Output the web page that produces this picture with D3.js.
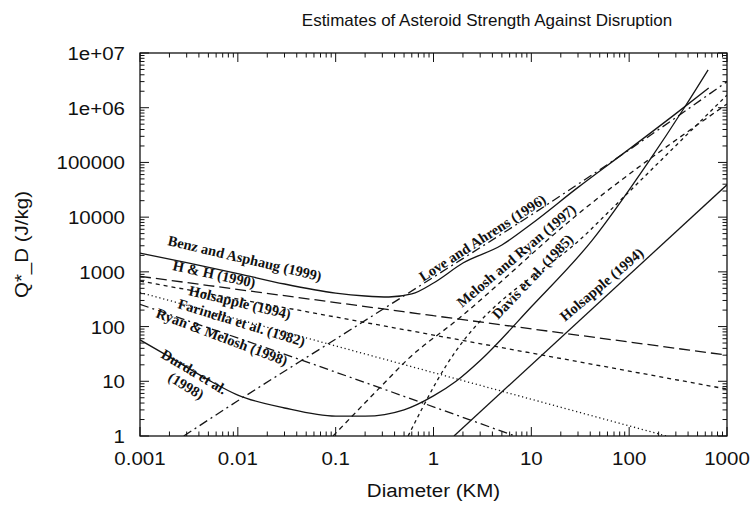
<!DOCTYPE html>
<html>
<head>
<meta charset="utf-8">
<script src="https://cdn.jsdelivr.net/npm/d3@7"></script>
<style>
  html, body { margin: 0; padding: 0; background: #fff; }
  svg { display: block; }
</style>
</head>
<body>
<svg id="chart" width="753" height="505"></svg>
<script>
// Catastrophic disruption threshold Q*_D (J/kg) versus target diameter (km)
const xTicks = [0.001, 0.01, 0.1, 1, 10, 100, 1000];
const xTickLabels = ["0.001", "0.01", "0.1", "1", "10", "100", "1000"];
const yTicks = [1, 10, 100, 1000, 10000, 100000, 1e6, 1e7];
const yTickLabels = ["1", "10", "100", "1000", "10000", "100000", "1e+06", "1e+07"];

const benzD = [0.001, 0.003, 0.01, 0.03, 0.1, 0.2, 0.35, 0.6, 1, 2, 5, 10, 30, 100, 300, 650];
const benzQ = [2200, 1470, 930, 600, 410, 362, 347, 394, 626, 1450, 3100, 7500, 35000, 175000, 780000, 2300000];

const hhD = [0.001, 1, 1000];
const hhQ = [830, 158, 30];

const holsStrD = [0.001, 1, 1000];
const holsStrQ = [680, 70, 7.2];

const farD = [0.001, 1, 240];
const farQ = [420, 14.4, 1];

const ryanD = [0.001, 0.1, 6.8];
const ryanQ = [255, 14.7, 1];

const durdaD = [0.001, 0.002, 0.005, 0.01, 0.03, 0.1, 0.2, 0.5, 1, 1.7, 3, 10, 42, 155, 370, 640];
const durdaQ = [57, 28, 10.6, 5.6, 3.25, 2.3, 2.3, 3.0, 5.4, 10, 24, 230, 3800, 98000, 1030000, 4900000];

const loveD = [0.0028, 0.01, 0.1, 1, 10, 100, 1000];
const loveQ = [1, 4.4, 59, 800, 11000, 170000, 3000000];

const meloshD = [0.094, 0.327, 0.536, 1.74, 29.3, 1000];
const meloshQ = [1, 10, 24.5, 132, 11000, 1170000];

const davisD = [0.55, 1.08, 40, 1000];
const davisQ = [1, 10, 5800, 1700000];

const holsGravD = [1.62, 1000];
const holsGravQ = [1, 39000];

const svg = d3.select("#chart");
const pL = 140, pR = 727, pT = 53, pB = 436;

const x = d3.scaleLog().domain([0.001, 1000]).range([pL, pR]);
const y = d3.scaleLog().domain([1, 1e7]).range([pB, pT]);

svg.append("defs").append("clipPath").attr("id", "plotClip")
  .append("rect").attr("x", pL).attr("y", pT)
  .attr("width", pR - pL).attr("height", pB - pT);

const sans = "Liberation Sans, Arial, sans-serif";
const fs = 19, sx = 1.08;

function label(px, py, txt, anchor, rot, size, stretch) {
  svg.append("text")
    .attr("transform", `translate(${px},${py}) rotate(${rot || 0}) scale(${stretch || sx},1)`)
    .attr("text-anchor", anchor)
    .attr("font-family", sans)
    .attr("font-size", size || fs).attr("fill", "#111")
    .text(txt);
}

// Title and axis titles
label(487, 26, "Estimates of Asteroid Strength Against Disruption", "middle", 0, 17, 1);
label((pL + pR) / 2, 497, "Diameter (KM)", "middle");
label(28, (pT + pB) / 2, "Q*_D (J/kg)", "middle", -90);

// Ticks: inward on all four sides, gnuplot style
const tickG = svg.append("g").attr("stroke", "#111").attr("stroke-width", 1);
const major = 9, minor = 4.5;

const xMinor = [];
for (let e = -3; e < 3; e++) for (let m = 2; m <= 9; m++) xMinor.push(m * Math.pow(10, e));
const yMinor = [];
for (let e = 0; e < 7; e++) for (let m = 2; m <= 9; m++) yMinor.push(m * Math.pow(10, e));

xTicks.forEach(v => {
  const px = x(v);
  tickG.append("line").attr("x1", px).attr("x2", px).attr("y1", pB).attr("y2", pB - major);
  tickG.append("line").attr("x1", px).attr("x2", px).attr("y1", pT).attr("y2", pT + major);
});
xMinor.forEach(v => {
  const px = x(v);
  tickG.append("line").attr("x1", px).attr("x2", px).attr("y1", pB).attr("y2", pB - minor);
  tickG.append("line").attr("x1", px).attr("x2", px).attr("y1", pT).attr("y2", pT + minor);
});
yTicks.forEach(v => {
  const py = y(v);
  tickG.append("line").attr("x1", pL).attr("x2", pL + major).attr("y1", py).attr("y2", py);
  tickG.append("line").attr("x1", pR).attr("x2", pR - major).attr("y1", py).attr("y2", py);
});
yMinor.forEach(v => {
  const py = y(v);
  tickG.append("line").attr("x1", pL).attr("x2", pL + minor).attr("y1", py).attr("y2", py);
  tickG.append("line").attr("x1", pR).attr("x2", pR - minor).attr("y1", py).attr("y2", py);
});

// Tick labels
xTicks.forEach((v, i) => label(x(v), 465, xTickLabels[i], "middle"));
yTicks.forEach((v, i) => label(125, y(v) + 7, yTickLabels[i], "end"));

// Curves
const line = d3.line().x(d => x(d[0])).y(d => y(d[1])).curve(d3.curveMonotoneX);
const plot = svg.append("g").attr("clip-path", "url(#plotClip)");

function curve(ds, qs, dash) {
  const pts = ds.map((d, i) => [d, qs[i]]);
  plot.append("path").datum(pts).attr("d", line)
    .attr("fill", "none").attr("stroke", "#151515").attr("stroke-width", 1.3)
    .attr("stroke-dasharray", dash || null);
}

curve(benzD, benzQ, null);
curve(hhD, hhQ, "11,5");
curve(holsStrD, holsStrQ, "4,4");
curve(farD, farQ, "1.2,2.8");
curve(ryanD, ryanQ, "9,4,2,4");
curve(durdaD, durdaQ, null);
curve(loveD, loveQ, "9,4,2,4");
curve(meloshD, meloshQ, "5,4");
curve(davisD, davisQ, "3.5,3.5");
curve(holsGravD, holsGravQ, null);

// Frame
svg.append("rect").attr("x", pL).attr("y", pT)
  .attr("width", pR - pL).attr("height", pB - pT)
  .attr("fill", "none").attr("stroke", "#111").attr("stroke-width", 1.3);

// Curve annotations
const notes = [
  { t: "Benz and Asphaug (1999)", x: 167, y: 245, a: 13.3 },
  { t: "H & H (1990)", x: 172, y: 270, a: 12.2 },
  { t: "Holsapple (1994)", x: 188, y: 295, a: 13.5 },
  { t: "Farinella et al. (1982)", x: 177, y: 308, a: 17 },
  { t: "Ryan & Melosh (1998)", x: 155, y: 317, a: 20.6 },
  { t: "Durda et al.", x: 160, y: 357, a: 31 },
  { t: "(1998)", x: 167, y: 380, a: 31 },
  { t: "Love and Ahrens (1996)", x: 423, y: 282, a: -32.8 },
  { t: "Melosh and Ryan (1997)", x: 462, y: 308, a: -40.2 },
  { t: "Davis et al. (1985)", x: 498, y: 320, a: -46.4 },
  { t: "Holsapple (1994)", x: 565, y: 322, a: -40.3 }
];
notes.forEach(n => {
  svg.append("text")
    .attr("transform", `translate(${n.x},${n.y}) rotate(${n.a})`)
    .attr("font-family", "Liberation Serif, Times New Roman, serif")
    .attr("font-weight", "bold").attr("font-size", 14.5).attr("fill", "#111")
    .text(n.t);
});
</script>
</body>
</html>
